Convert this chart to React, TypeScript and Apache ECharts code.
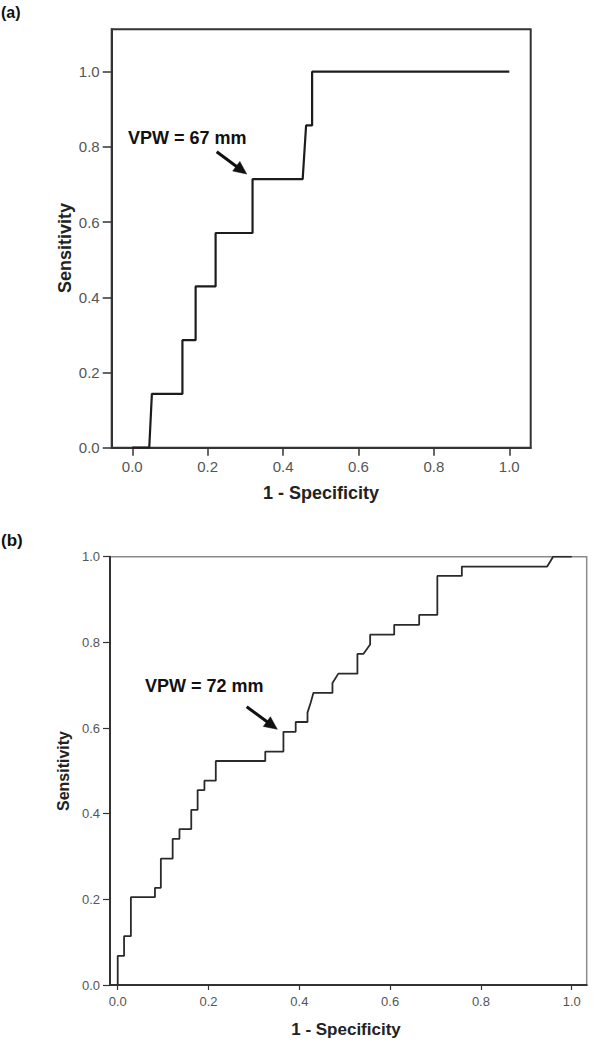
import React, { useEffect, useRef } from "react";
import * as echarts from "echarts";

// Panel (a) ROC curve: 1 - Specificity / Sensitivity
const xA = [0, 0.045, 0.052, 0.133, 0.133, 0.168, 0.168, 0.221, 0.221, 0.319, 0.319, 0.452, 0.461, 0.477, 0.477, 1];
const yA = [0, 0, 0.143, 0.143, 0.286, 0.286, 0.429, 0.429, 0.571, 0.571, 0.714, 0.714, 0.857, 0.857, 1, 1];

// Panel (b) ROC curve
const xB = [0, 0, 0.014, 0.014, 0.029, 0.029, 0.082, 0.082, 0.095, 0.095, 0.121, 0.121, 0.136, 0.136, 0.162, 0.162,
  0.176, 0.176, 0.191, 0.191, 0.216, 0.216, 0.325, 0.325, 0.365, 0.365, 0.392, 0.392, 0.418, 0.418, 0.425, 0.431,
  0.473, 0.473, 0.486, 0.528, 0.528, 0.541, 0.556, 0.556, 0.609, 0.609, 0.664, 0.664, 0.704, 0.704, 0.758, 0.758,
  0.946, 0.959, 1];
const yB = [0, 0.068, 0.068, 0.114, 0.114, 0.205, 0.205, 0.227, 0.227, 0.295, 0.295, 0.341, 0.341, 0.364, 0.364, 0.409,
  0.409, 0.455, 0.455, 0.477, 0.477, 0.523, 0.523, 0.545, 0.545, 0.591, 0.591, 0.614, 0.614, 0.636, 0.659, 0.682,
  0.682, 0.705, 0.727, 0.727, 0.773, 0.773, 0.795, 0.818, 0.818, 0.841, 0.841, 0.864, 0.864, 0.955, 0.955, 0.977,
  0.977, 1, 1];

const tickValues = [0, 0.2, 0.4, 0.6, 0.8, 1.0];
const xTitle = "1 - Specificity";
const yTitle = "Sensitivity";
const annotA = "VPW = 67 mm";
const annotB = "VPW = 72 mm";

const FONT = 'Arial, "Liberation Sans", sans-serif';

function arrow(x1: number, y1: number, x2: number, y2: number, w: number, L: number, hw: number, color: string) {
  const dx = x2 - x1, dy = y2 - y1;
  const len = Math.hypot(dx, dy);
  const ux = dx / len, uy = dy / len;
  const bx = x2 - ux * L, by = y2 - uy * L;
  const px = -uy, py = ux;
  return [
    {
      type: "polyline",
      shape: { points: [[x1, y1], [bx + ux * 2, by + uy * 2]] },
      style: { stroke: color, lineWidth: w, fill: null },
      silent: true,
    },
    {
      type: "polygon",
      shape: { points: [[x2, y2], [bx + px * hw, by + py * hw], [bx - px * hw, by - py * hw]] },
      style: { fill: color, stroke: color, lineWidth: 0.5 },
      silent: true,
    },
  ];
}

export default function App() {
  const ref = useRef<HTMLDivElement>(null);
  useEffect(() => {
    if (!ref.current) return;
    const chart = echarts.init(ref.current, null, { renderer: "svg" });
    const dataA = xA.map((x, i) => [x, yA[i]]);
    const dataB = xB.map((x, i) => [x, yB[i]]);
    const fmt = (v: number) => v.toFixed(1);

    const option: any = {
      animation: false,
      backgroundColor: "#ffffff",
      grid: [
        { left: 111.7, top: 29.3, width: 419, height: 418.4, show: true, borderColor: "#333", borderWidth: 2, backgroundColor: "transparent" },
        { left: 110, top: 556.7, width: 476.7, height: 428.3, show: true, borderColor: "#8a8a8a", borderWidth: 1.5, backgroundColor: "transparent" },
      ],
      xAxis: [
        {
          type: "value", gridIndex: 0, min: -0.0546, max: 1.0568,
          axisLine: { show: true, onZero: false, lineStyle: { color: "#333", width: 2 } },
          axisTick: { show: true, length: 8, customValues: tickValues, lineStyle: { color: "#333", width: 1.5 } },
          axisLabel: { customValues: tickValues, formatter: fmt, margin: 11, fontSize: 15, color: "#555", fontFamily: FONT },
          splitLine: { show: false },
        },
        {
          type: "value", gridIndex: 1, min: -0.017, max: 1.033,
          axisLine: { show: true, onZero: false, lineStyle: { color: "#333", width: 2 } },
          axisTick: { show: true, length: 5, customValues: tickValues, lineStyle: { color: "#333", width: 1.2 } },
          axisLabel: { customValues: tickValues, formatter: fmt, margin: 10, fontSize: 13, color: "#555", fontFamily: FONT },
          splitLine: { show: false },
        },
      ],
      yAxis: [
        {
          type: "value", gridIndex: 0, min: 0, max: 1.1127,
          axisLine: { show: true, onZero: false, lineStyle: { color: "#333", width: 2 } },
          axisTick: { show: true, length: 9, customValues: tickValues, lineStyle: { color: "#333", width: 1.5 } },
          axisLabel: { customValues: tickValues, formatter: fmt, margin: 12, fontSize: 15, color: "#555", fontFamily: FONT },
          splitLine: { show: false },
        },
        {
          type: "value", gridIndex: 1, min: 0, max: 1,
          axisLine: { show: true, onZero: false, lineStyle: { color: "#333", width: 2 } },
          axisTick: { show: true, length: 7, customValues: tickValues, lineStyle: { color: "#333", width: 1.2 } },
          axisLabel: { customValues: tickValues, formatter: fmt, margin: 10, fontSize: 13, color: "#555", fontFamily: FONT },
          splitLine: { show: false },
        },
      ],
      series: [
        {
          type: "line", xAxisIndex: 0, yAxisIndex: 0, data: dataA, showSymbol: false, symbol: "none",
          lineStyle: { color: "#1c1c1c", width: 2.2 }, silent: true,
        },
        {
          type: "line", xAxisIndex: 1, yAxisIndex: 1, data: dataB, showSymbol: false, symbol: "none",
          lineStyle: { color: "#2a2a2a", width: 1.8 }, silent: true,
        },
      ],
      graphic: [
        { type: "text", left: 1, top: 4, style: { text: "(a)", fontSize: 16, fontWeight: "bold", fill: "#111", fontFamily: FONT } },
        { type: "text", left: 1, top: 532, style: { text: "(b)", fontSize: 17, fontWeight: "bold", fill: "#111", fontFamily: FONT } },
        {
          type: "text", x: 65, y: 248, rotation: Math.PI / 2,
          style: { text: yTitle, fontSize: 18, fontWeight: "bold", fill: "#222", fontFamily: FONT, align: "center", verticalAlign: "middle" },
        },
        {
          type: "text", x: 321, y: 493,
          style: { text: xTitle, fontSize: 18, fontWeight: "bold", fill: "#222", fontFamily: FONT, align: "center", verticalAlign: "middle" },
        },
        {
          type: "text", x: 63, y: 771, rotation: Math.PI / 2,
          style: { text: yTitle, fontSize: 16, fontWeight: "bold", fill: "#222", fontFamily: FONT, align: "center", verticalAlign: "middle" },
        },
        {
          type: "text", x: 346, y: 1029,
          style: { text: xTitle, fontSize: 17, fontWeight: "bold", fill: "#222", fontFamily: FONT, align: "center", verticalAlign: "middle" },
        },
        {
          type: "text", x: 128, y: 138,
          style: { text: annotA, fontSize: 18, fontWeight: "bold", fill: "#111", fontFamily: FONT, align: "left", verticalAlign: "middle" },
        },
        {
          type: "text", x: 145, y: 686,
          style: { text: annotB, fontSize: 18, fontWeight: "bold", fill: "#111", fontFamily: FONT, align: "left", verticalAlign: "middle" },
        },
        ...arrow(216.7, 151.7, 246.7, 174, 3, 13, 6, "#111"),
        ...arrow(246.7, 706.7, 277.3, 729.3, 3, 13, 6, "#111"),
      ],
    };
    chart.setOption(option);
    return () => chart.dispose();
  }, []);
  return (
    <div
      ref={ref}
      style={{ position: "absolute", left: 0, top: 0, width: 600, height: 1043, background: "#fff" }}
    />
  );
}
